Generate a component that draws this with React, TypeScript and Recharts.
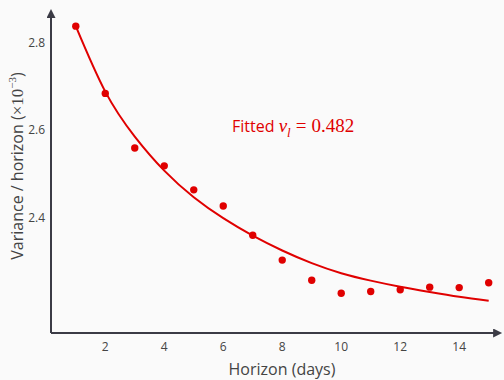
import React from "react";
import { ComposedChart, Line, Scatter, XAxis, YAxis } from "recharts";

const horizons = [1, 2, 3, 4, 5, 6, 7, 8, 9, 10, 11, 12, 13, 14, 15];
const observed = [2.838, 2.684, 2.559, 2.518, 2.463, 2.426, 2.359, 2.302, 2.256, 2.226, 2.230, 2.234, 2.240, 2.239, 2.250];
const fitted = [2.838, 2.688, 2.585, 2.507, 2.446, 2.398, 2.358, 2.324, 2.295, 2.272, 2.255, 2.241, 2.229, 2.218, 2.209];
const xTicks = [2, 4, 6, 8, 10, 12, 14];
const yTicks = [2.4, 2.6, 2.8];

const obsData = horizons.map((x, i) => ({ x, y: observed[i] }));
const fitData = horizons.map((x, i) => ({ x, y: fitted[i] }));

const RED = "#e00000";
const AXIS = "#3b3b45";
const TEXT = "#444";
const SANS = "'Open Sans', 'Noto Sans', sans-serif";
const SERIF = "'Liberation Serif', 'DejaVu Serif', serif";

const Dot = (props: any) => <circle cx={props.cx} cy={props.cy} r={3.7} fill={RED} />;

export default function App() {
  return (
    <div style={{ position: "fixed", left: 0, top: 0, width: 504, height: 380, background: "#fafafa", overflow: "hidden" }}>
      <svg width={0} height={0} style={{ position: "absolute" }}>
        <defs>
          <marker id="arrowHead" viewBox="0 0 10 10" refX={1} refY={5} markerWidth={10} markerHeight={9} markerUnits="userSpaceOnUse" orient="auto-start-reverse">
            <path d="M0,0 L10,5 L0,10 z" fill={AXIS} />
          </marker>
        </defs>
      </svg>
      <ComposedChart width={504} height={380} margin={{ top: 17, right: 10, bottom: 0, left: 0 }}>
        <XAxis
          type="number"
          dataKey="x"
          domain={[0.16, 15.18]}
          ticks={xTicks}
          tickLine={false}
          tickSize={0}
          tickMargin={9}
          height={47}
          axisLine={{ stroke: AXIS, strokeWidth: 2, markerEnd: "url(#arrowHead)" } as any}
          tick={{ fill: TEXT, fontSize: 12, fontFamily: SANS }}
          allowDataOverflow
        />
        <YAxis
          type="number"
          dataKey="y"
          domain={[2.135, 2.859]}
          ticks={yTicks}
          tickLine={false}
          tickSize={0}
          tickMargin={6}
          width={51}
          axisLine={{ stroke: AXIS, strokeWidth: 2, markerStart: "url(#arrowHead)" } as any}
          tick={{ fill: TEXT, fontSize: 12, fontFamily: SANS }}
          tickFormatter={(v: number) => v.toFixed(1)}
          allowDataOverflow
        />
        <Line data={fitData} dataKey="y" type="natural" stroke={RED} strokeWidth={2} dot={false} isAnimationActive={false} />
        <Scatter data={obsData} dataKey="y" fill={RED} shape={Dot} isAnimationActive={false} />
      </ComposedChart>
      <div
        style={{
          position: "absolute",
          left: 17,
          top: 166,
          transform: "translate(-50%, -50%) rotate(-90deg)",
          whiteSpace: "nowrap",
          fontFamily: SANS,
          fontSize: 16,
          color: TEXT,
        }}
      >
        Variance / horizon (<span style={{ fontFamily: SERIF, fontSize: 17 }}>×10<sup style={{ fontSize: 11 }}>−3</sup></span>)
      </div>
      <div
        style={{
          position: "absolute",
          left: 282,
          top: 369,
          transform: "translate(-50%, -50%)",
          whiteSpace: "nowrap",
          fontFamily: SANS,
          fontSize: 16,
          color: TEXT,
        }}
      >
        Horizon (days)
      </div>
      <div
        style={{
          position: "absolute",
          left: 232,
          top: 128,
          transform: "translate(0, -50%)",
          whiteSpace: "nowrap",
          fontFamily: SANS,
          fontSize: 16,
          color: RED,
        }}
      >
        Fitted{" "}
        <span style={{ fontFamily: SERIF, fontSize: 19 }}>
          <i>ν</i>
          <sub style={{ fontSize: 13 }}><i>l</i></sub>
          <span style={{ margin: "0 5px" }}>=</span>0.482
        </span>
      </div>
    </div>
  );
}
